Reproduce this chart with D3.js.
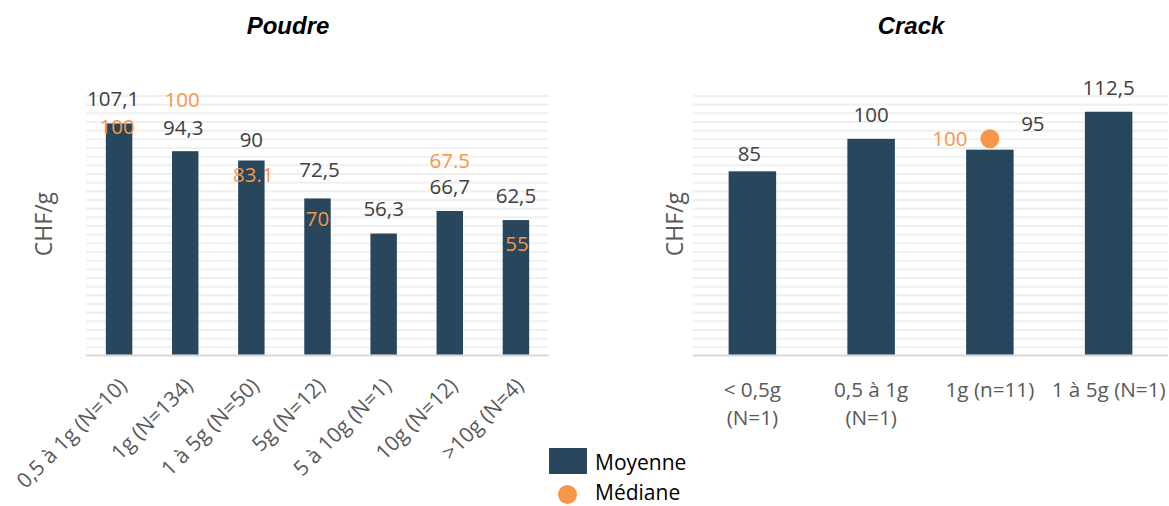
<!DOCTYPE html>
<html>
<head>
<meta charset="utf-8">
<script src="https://cdn.jsdelivr.net/npm/d3@7"></script>
<style>
  html, body { margin: 0; padding: 0; background: #fff; }
  svg { display: block; font-family: "Open Sans", sans-serif; }
  .title { font-family: "Liberation Sans", Arial, sans-serif; font-weight: bold; font-style: italic; }
</style>
</head>
<body>
<svg id="chart" width="1169" height="506"></svg>
<script>
// Prix moyen et médian par gramme (CHF/g) selon la quantité achetée
const poudreCategories = ["0,5 à 1g (N=10)", "1g (N=134)", "1 à 5g (N=50)", "5g (N=12)", "5 à 10g (N=1)", "10g (N=12)", ">10g (N=4)"];
const poudreMoyenne = [107.1, 94.3, 90, 72.5, 56.3, 66.7, 62.5];
const poudreMediane = [100, 100, 83.1, 70, null, 67.5, 55];

const crackCategories = [["< 0,5g", "(N=1)"], ["0,5 à 1g", "(N=1)"], ["1g (n=11)"], ["1 à 5g (N=1)"]];
const crackMoyenne = [85, 100, 95, 112.5];
const crackMediane = [null, null, 100, null];

const yTicks = d3.range(0, 124, 4);   // lignes de grille tous les 4 CHF

// Mise en page
const COL_BAR = "#28475d";
const COL_MED = "#f79646";
const COL_TXT = "#404040";
const COL_AXIS = "#595959";
const baseY = 355.5, topY = 95.5;

const svg = d3.select("#chart");
const y = d3.scaleLinear().domain([0, 120]).range([baseY, topY]);

const fmtComma = v => String(v).replace(".", ",");
const fmtDot = v => String(v);

// Décalages manuels des étiquettes (dx, dy en px) par rapport à leur position par défaut
const poudreMoyShift = [[-6, 0], [-2, 1], [0, 4], [2, -4], [0, 0], [0, 0], [0, 0]];
const poudreMedShift = [[-2, -12], [-3, -39], [2, -1], [0, 15], [0, 0], [0, -49], [1, 7]];
const crackMoyShift = [[-3, 7], [0, 0], [43, -2], [0, 0]];
const crackMedShift = [[0, 0], [0, 0], [-40, 0], [0, 0]];

function panel(cfg) {
  const g = svg.append("g");
  const x = d3.scaleBand()
    .domain(d3.range(cfg.categories.length))
    .range(cfg.xRange)
    .paddingInner(0.6)
    .paddingOuter(0.3);

  // Grille horizontale
  g.append("g")
    .attr("transform", `translate(${cfg.xRange[0]},0)`)
    .call(d3.axisLeft(y).tickValues(yTicks.filter(t => t > 0)).tickFormat("")
      .tickSize(-(cfg.xRange[1] - cfg.xRange[0])))
    .call(s => s.select(".domain").remove())
    .call(s => s.selectAll(".tick line").attr("stroke", "#f0f0f0").attr("stroke-width", 2));

  // Ligne de base
  g.append("line")
    .attr("x1", cfg.xRange[0]).attr("x2", cfg.xRange[1])
    .attr("y1", y(0)).attr("y2", y(0))
    .attr("stroke", "#d9d9d9").attr("stroke-width", 2);

  // Barres (moyenne)
  g.selectAll("rect.bar").data(cfg.moyenne).join("rect")
    .attr("class", "bar")
    .attr("x", (d, i) => x(i))
    .attr("width", x.bandwidth())
    .attr("y", d => y(d))
    .attr("height", d => y(0) - y(d) - 1)
    .attr("fill", COL_BAR);

  // Étiquettes des moyennes
  g.selectAll("text.moy").data(cfg.moyenne).join("text")
    .attr("class", "moy")
    .attr("x", (d, i) => x(i) + x.bandwidth() / 2 + cfg.moyShift[i][0])
    .attr("y", (d, i) => y(d) - 24.5 + cfg.moyShift[i][1])
    .attr("dy", "0.36em")
    .attr("text-anchor", "middle")
    .attr("font-size", 20.5)
    .attr("fill", COL_TXT)
    .text(fmtComma);

  // Médianes
  const med = cfg.mediane.map((v, i) => ({ v, i })).filter(d => d.v != null);
  if (cfg.showDot) {
    g.selectAll("circle.med").data(med).join("circle")
      .attr("class", "med")
      .attr("cx", d => x(d.i) + x.bandwidth() / 2)
      .attr("cy", d => y(d.v))
      .attr("r", 9.5)
      .attr("fill", COL_MED);
  }
  g.selectAll("text.med").data(med).join("text")
    .attr("class", "med")
    .attr("x", d => x(d.i) + x.bandwidth() / 2 + cfg.medShift[d.i][0])
    .attr("y", d => y(d.v) + cfg.medShift[d.i][1])
    .attr("dy", "0.36em")
    .attr("text-anchor", "middle")
    .attr("font-size", 20.5)
    .attr("fill", COL_MED)
    .text(d => fmtDot(d.v));

  // Titre
  svg.append("text")
    .attr("class", "title")
    .attr("x", cfg.titleX).attr("y", 34)
    .attr("text-anchor", "middle")
    .attr("font-size", 24)
    .attr("fill", "#000")
    .text(cfg.title);

  // Titre de l'axe vertical
  svg.append("text")
    .attr("transform", `translate(${cfg.yLabelX},224) rotate(-90)`)
    .attr("text-anchor", "middle")
    .attr("dy", "0.36em")
    .attr("font-size", 23)
    .attr("fill", COL_AXIS)
    .text("CHF/g");

  return { g, x };
}

// Panneau gauche : poudre
const left = panel({
  categories: poudreCategories, moyenne: poudreMoyenne, mediane: poudreMediane,
  xRange: [86, 549], moyShift: poudreMoyShift, medShift: poudreMedShift,
  showDot: false, title: "Poudre", titleX: 288, yLabelX: 44
});
left.g.selectAll("text.cat").data(poudreCategories).join("text")
  .attr("class", "cat")
  .attr("transform", (d, i) => `translate(${left.x(i) + left.x.bandwidth() / 2 + 9},387) rotate(-45)`)
  .attr("text-anchor", "end")
  .attr("font-size", 21)
  .attr("fill", COL_AXIS)
  .text(d => d);

// Panneau droit : crack
const right = panel({
  categories: crackCategories, moyenne: crackMoyenne, mediane: crackMediane,
  xRange: [693, 1168], moyShift: crackMoyShift, medShift: crackMedShift,
  showDot: true, title: "Crack", titleX: 911, yLabelX: 675
});
const catText = right.g.selectAll("text.cat").data(crackCategories).join("text")
  .attr("class", "cat")
  .attr("text-anchor", "middle")
  .attr("font-size", 20.7)
  .attr("fill", COL_AXIS);
catText.selectAll("tspan").data((d, i) => d.map(line => ({ line, i }))).join("tspan")
  .attr("x", d => right.x(d.i) + right.x.bandwidth() / 2)
  .attr("y", (d, j) => 397 + j * 28)
  .text(d => d.line);

// Légende
const legend = svg.append("g");
legend.append("rect").attr("x", 549).attr("y", 448).attr("width", 38).attr("height", 26).attr("fill", COL_BAR);
legend.append("text").attr("x", 595).attr("y", 470).attr("font-size", 21).attr("fill", "#000").text("Moyenne");
legend.append("circle").attr("cx", 567.5).attr("cy", 494.5).attr("r", 9.5).attr("fill", COL_MED);
legend.append("text").attr("x", 595).attr("y", 500).attr("font-size", 21).attr("fill", "#000").text("Médiane");
</script>
</body>
</html>
